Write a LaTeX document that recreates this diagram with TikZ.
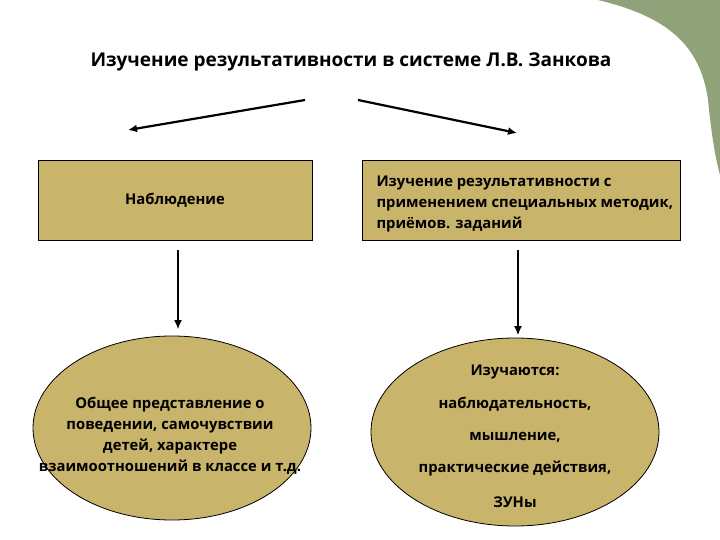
\documentclass[tikz,border=0pt]{standalone}
\usepackage{fontspec}
\setmainfont{Open Sans}
\usetikzlibrary{shapes.geometric,arrows.meta}
\definecolor{tan}{HTML}{C9B46B}
\definecolor{leaf}{HTML}{8FA27A}
\definecolor{paleleaf}{HTML}{DCE5D0}
\begin{document}
\begin{tikzpicture}[x=1pt,y=-1pt,
  boxst/.style={draw=black,fill=tan,line width=0.8pt,minimum width=274pt,minimum height=80pt},
  ellst/.style={draw=black,fill=tan,ellipse,line width=0.8pt},
  arr/.style={-{Latex[length=9pt,width=8pt]},line width=2.2pt},
  varr/.style={-{Latex[length=9pt,width=8pt]},line width=1.2pt},
  txt/.style={font=\bfseries\fontsize{14.8}{21}\selectfont}]
\useasboundingbox (0,0) rectangle (720,540);
\fill[white] (0,0) rectangle (720,540);
\fill[paleleaf] (640,0) .. controls (690,20) and (712,50) .. (720,80) -- (720,0) -- cycle;
\fill[leaf] (598,0) .. controls (660,15) and (700,40) .. (708,100) .. controls (712,140) and (716,160) .. (720,175) -- (720,0) -- cycle;
\node[font=\bfseries\fontsize{19}{22}\selectfont] (title) at (351,62) {Изучение результативности в системе Л.В. Занкова};
\coordinate (la) at (305,100); \coordinate (lb) at (128,130);
\coordinate (ra) at (358,100); \coordinate (rb) at (517,133);
\draw[arr] (la) -- (lb);
\draw[arr] (ra) -- (rb);
\node[boxst,txt] (b1) at (175,200) {Наблюдение};
\node[boxst,minimum width=318pt] (b2) at (521,200) {};
\node[txt,align=left,anchor=west] (b2t) at (373,204) {Изучение результативности с\\применением специальных методик,\\приёмов. заданий};
\coordinate (v1a) at (178,250); \coordinate (v1b) at (178,329);
\coordinate (v2a) at (518,250); \coordinate (v2b) at (518,335);
\draw[varr] (v1a) -- (v1b);
\draw[varr] (v2a) -- (v2b);
\node[ellst,minimum width=278pt,minimum height=184pt] (e1) at (172,428) {};
\node[txt,align=center] (e1t) at (170,436) {Общее представление о\\поведении, самочувствии\\детей, характере\\взаимоотношений в классе и т.д.};
\node[ellst,minimum width=288pt,minimum height=188pt] (e2) at (515,432) {};
\node[txt] (t1) at (515,372) {Изучаются:};
\node[txt] (t2) at (515,404) {наблюдательность,};
\node[txt] (t3) at (515,437) {мышление,};
\node[txt] (t4) at (515,468) {практические действия,};
\node[txt] (t5) at (515,502) {ЗУНы};
\end{tikzpicture}
\end{document}
